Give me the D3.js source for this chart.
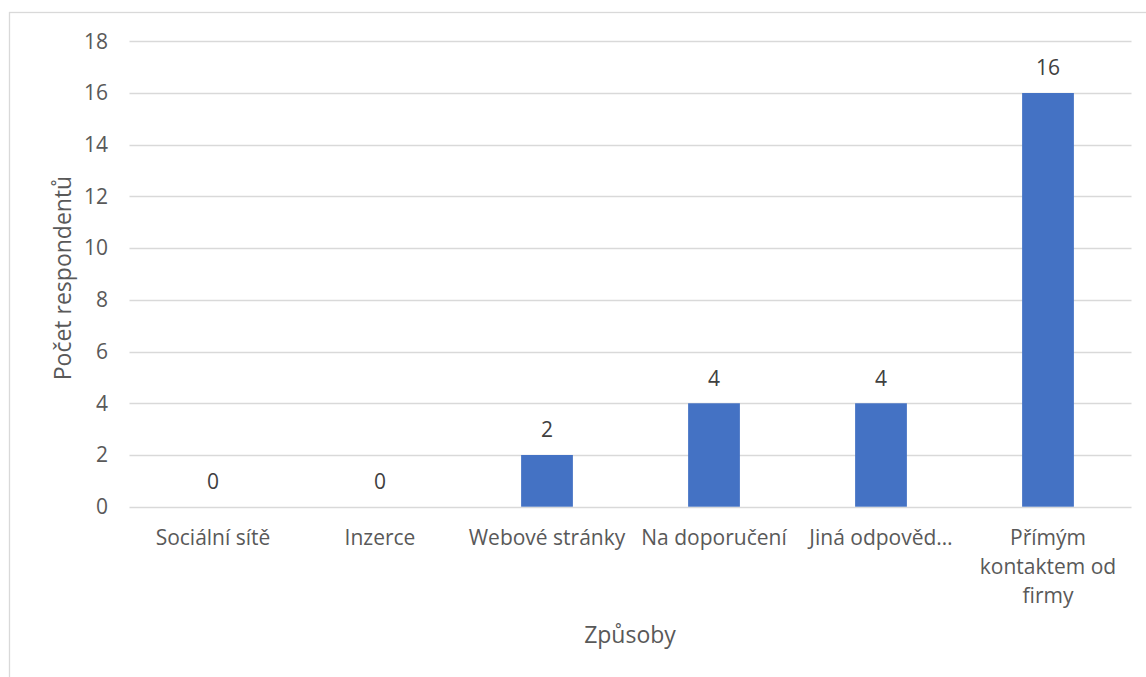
<!DOCTYPE html>
<html><head><meta charset="utf-8">
<script src="https://cdn.jsdelivr.net/npm/d3@7"></script>
<style>body{margin:0;background:#fff}svg{display:block}text{font-family:"Open Sans",sans-serif}</style>
</head><body>
<svg id="c" width="1146" height="677"></svg>
<script>
const categories = ["Sociální sítě","Inzerce","Webové stránky","Na doporučení","Jiná odpověď...","Přímým kontaktem od firmy"];
const categoryLines = [["Sociální sítě"],["Inzerce"],["Webové stránky"],["Na doporučení"],["Jiná odpověd…"],["Přímým","kontaktem od","firmy"]];
const values = [0,0,2,4,4,16];
const yTicks = [0,2,4,6,8,10,12,14,16,18];
const yTitle = "Počet respondentů";
const xTitle = "Způsoby";

const FS = 21, FT = 23;
const svg = d3.select("#c");
svg.append("rect").attr("x",9.5).attr("y",12.5).attr("width",1146).attr("height",700)
  .attr("fill","#fff").attr("stroke","#d9d9d9").attr("stroke-width",1.3);

const x = d3.scaleBand().domain(categories).range([129.5,1131.5]).paddingInner(0.69).paddingOuter(0.345);
const y = d3.scaleLinear().domain([0,18]).range([506.7,41.3]);

const grid = svg.append("g");
grid.selectAll("line").data(yTicks).join("line")
  .attr("x1",129.5).attr("x2",1131.5)
  .attr("y1",d=>Math.round(y(d))+0.5).attr("y2",d=>Math.round(y(d))+0.5)
  .attr("stroke","#d9d9d9").attr("stroke-width",1.3);

const yAxis = svg.append("g").attr("transform","translate(108,0)")
  .call(d3.axisLeft(y).tickValues(yTicks).tickSize(0).tickPadding(0));
yAxis.select(".domain").remove();
yAxis.selectAll("text").attr("font-size",FS).attr("fill","#595959").style("font-family","Open Sans");

svg.append("g").selectAll("rect").data(values).join("rect")
  .attr("x",(d,i)=>x(categories[i])).attr("width",x.bandwidth())
  .attr("y",d=>y(d)).attr("height",d=>y(0)-y(d)).attr("fill","#4472c4");

svg.append("g").selectAll("text").data(values).join("text")
  .attr("x",(d,i)=>x(categories[i])+x.bandwidth()/2)
  .attr("y",d=>y(d)-25).attr("dy","0.35em")
  .attr("text-anchor","middle").attr("font-size",FS).attr("fill","#404040").text(d=>d);

const xl = svg.append("g");
categories.forEach((c,i)=>{
  const t = xl.append("text").attr("text-anchor","middle").attr("font-size",FS).attr("fill","#595959");
  categoryLines[i].forEach((ln,j)=>{
    t.append("tspan").attr("x",x(c)+x.bandwidth()/2).attr("y",538+j*28.7).attr("dy","0.35em").text(ln);
  });
});

svg.append("text").attr("transform","translate(62.5,278) rotate(-90)")
  .attr("text-anchor","middle").attr("dy","0.35em").attr("font-size",FT).attr("fill","#595959").text(yTitle);
svg.append("text").attr("x",630).attr("y",635).attr("dy","0.35em")
  .attr("text-anchor","middle").attr("font-size",FT).attr("fill","#595959").text(xTitle);
</script>
</body></html>
